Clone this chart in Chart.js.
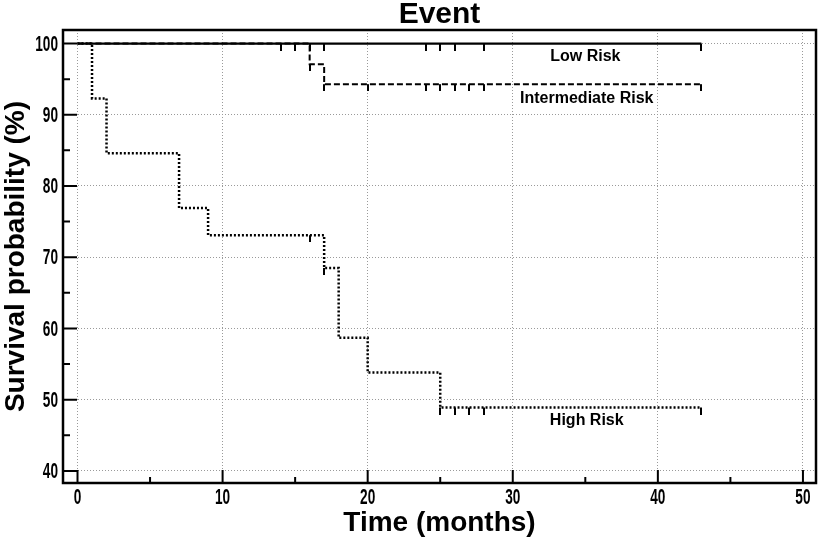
<!DOCTYPE html>
<html>
<head>
<meta charset="utf-8">
<script src="https://cdn.jsdelivr.net/npm/chart.js@4.4.0/dist/chart.umd.min.js"></script>
<style>
  html, body { margin: 0; padding: 0; background: #fff; }
</style>
</head>
<body>
<canvas id="km" width="822" height="546"></canvas>
<script>
// Kaplan-Meier curves (time in months, survival in %)
const lowTimes = [0, 43];
const lowSurv = [100, 100];
const lowCensorT = [14, 15, 16, 17, 24, 25, 26, 28, 43];
const lowCensorS = [100, 100, 100, 100, 100, 100, 100, 100, 100];

const midTimes = [0, 16, 17, 43];
const midSurv = [100, 97.1, 94.3, 94.3];
const midCensorT = [16, 17, 20, 24, 25, 26, 27, 28, 43];
const midCensorS = [97.1, 94.3, 94.3, 94.3, 94.3, 94.3, 94.3, 94.3, 94.3];

const highTimes = [0, 1, 2, 7, 9, 17, 18, 20, 25, 43];
const highSurv = [100, 92.3, 84.6, 76.9, 73.1, 68.5, 58.7, 53.8, 48.9, 48.9];
const highCensorT = [16, 17, 25, 26, 27, 28, 43];
const highCensorS = [73.1, 68.5, 48.9, 48.9, 48.9, 48.9, 48.9];

const groupNames = ["Low Risk", "Intermediate Risk", "High Risk"];
const chartTitle = "Event";

// axis ticks
const xMajor = [0, 10, 20, 30, 40, 50];
const xMinor = [5, 15, 25, 35, 45];
const yMajor = [40, 50, 60, 70, 80, 90, 100];
const yMinor = [45, 55, 65, 75, 85, 95];

const wide = "'Liberation Sans', Arial, sans-serif";

const pts = (xs, ys) => xs.map((x, i) => ({ x: x, y: ys[i] }));

// small vertical tick that hangs below the curve (censored case)
function censorMark(len) {
  const c = document.createElement("canvas");
  c.width = 2;
  c.height = len * 2;
  const g = c.getContext("2d");
  g.fillStyle = "#000";
  g.fillRect(0, len, 2, len);
  return c;
}
const mark = censorMark(7);

function curve(label, data, dash, width, order) {
  return {
    label: label,
    data: data,
    order: order,
    stepped: "before",
    borderColor: "#000",
    borderWidth: width,
    borderDash: dash,
    pointRadius: 0,
    fill: false,
  };
}
function censors(data) {
  return {
    label: "censored",
    data: data,
    order: 0,
    showLine: false,
    pointStyle: mark,
    pointRadius: 5,
    borderColor: "#000",
    backgroundColor: "#000",
  };
}

// condensed bold text, like the narrow face of the original
function narrowText(ctx, text, x, y, align) {
  ctx.save();
  ctx.translate(x, y);
  ctx.scale(0.62, 1);
  ctx.textAlign = align;
  ctx.fillText(text, 0, 0);
  ctx.restore();
}

// inward tick marks, tick labels, frame, title and the group labels
const framePlugin = {
  id: "kmFrame",
  afterDatasetsDraw(chart) {
    const ctx = chart.ctx;
    const a = chart.chartArea;
    const xs = chart.scales.x;
    const ys = chart.scales.y;
    ctx.save();
    ctx.strokeStyle = "#000";
    ctx.lineWidth = 2;
    ctx.beginPath();
    yMajor.forEach((v) => {
      const y = ys.getPixelForValue(v);
      ctx.moveTo(a.left, y);
      ctx.lineTo(a.left + 14, y);
    });
    yMinor.forEach((v) => {
      const y = ys.getPixelForValue(v);
      ctx.moveTo(a.left, y);
      ctx.lineTo(a.left + 7, y);
    });
    xMajor.forEach((v) => {
      const x = xs.getPixelForValue(v);
      ctx.moveTo(x, a.bottom);
      ctx.lineTo(x, a.bottom - 13);
    });
    xMinor.forEach((v) => {
      const x = xs.getPixelForValue(v);
      ctx.moveTo(x, a.bottom);
      ctx.lineTo(x, a.bottom - 6);
    });
    ctx.stroke();

    ctx.lineWidth = 2.5;
    ctx.strokeRect(a.left, a.top, a.right - a.left, a.bottom - a.top);

    ctx.fillStyle = "#000";
    ctx.textBaseline = "middle";
    ctx.font = "bold 22px " + wide;
    yMajor.forEach((v) => narrowText(ctx, String(v), a.left - 5, ys.getPixelForValue(v) + 1, "right"));
    xMajor.forEach((v) => narrowText(ctx, String(v), xs.getPixelForValue(v), a.bottom + 15, "center"));

    ctx.textAlign = "center";
    ctx.font = "bold 30px " + wide;
    ctx.fillText(chartTitle, (a.left + a.right) / 2, 15);

    ctx.font = "bold 16px " + wide;
    chart.options.plugins.kmFrame.labels.forEach((l) => {
      ctx.fillText(l.text, xs.getPixelForValue(l.x), ys.getPixelForValue(l.y));
    });
    ctx.restore();
  },
};

new Chart(document.getElementById("km"), {
  type: "line",
  data: {
    datasets: [
      curve(groupNames[0], pts(lowTimes, lowSurv), [], 2.2, 1),
      curve(groupNames[1], pts(midTimes, midSurv), [6, 3], 2, 3),
      curve(groupNames[2], pts(highTimes, highSurv), [2, 2], 2.5, 2),
      censors(pts(lowCensorT, lowCensorS)),
      censors(pts(midCensorT, midCensorS)),
      censors(pts(highCensorT, highCensorS)),
    ],
  },
  plugins: [framePlugin],
  options: {
    responsive: false,
    animation: false,
    layout: { padding: { left: 0, right: 5, top: 30, bottom: 0 } },
    plugins: {
      legend: { display: false },
      tooltip: { enabled: false },
      title: { display: false },
      kmFrame: {
        labels: [
          { text: groupNames[0], x: 35, y: 98.1 },
          { text: groupNames[1], x: 35.1, y: 92.3 },
          { text: groupNames[2], x: 35.1, y: 47 },
        ],
      },
    },
    scales: {
      x: {
        type: "linear",
        min: -1,
        max: 50.9,
        afterBuildTicks: (s) => { s.ticks = xMajor.map((v) => ({ value: v })); },
        afterFit: (s) => { s.height = 63; },
        grid: { color: "#9a9a9a", lineWidth: 1, drawTicks: false },
        border: { display: false, dash: [1, 2] },
        ticks: { display: false },
        title: {
          display: true,
          text: "Time (months)",
          color: "#000",
          font: { family: wide, size: 28, weight: "bold", lineHeight: 1.2 },
          padding: { top: 0, bottom: 6 },
        },
      },
      y: {
        type: "linear",
        min: 38.3,
        max: 101.9,
        afterBuildTicks: (s) => { s.ticks = yMajor.map((v) => ({ value: v })); },
        afterFit: (s) => { s.width = 63; },
        grid: { color: "#9a9a9a", lineWidth: 1, drawTicks: false },
        border: { display: false, dash: [1, 2] },
        ticks: { display: false },
        title: {
          display: true,
          text: "Survival probability (%)",
          color: "#000",
          font: { family: wide, size: 28, weight: "bold", lineHeight: 1.15 },
          padding: { top: 0, bottom: 0 },
        },
      },
    },
  },
});
</script>
</body>
</html>
